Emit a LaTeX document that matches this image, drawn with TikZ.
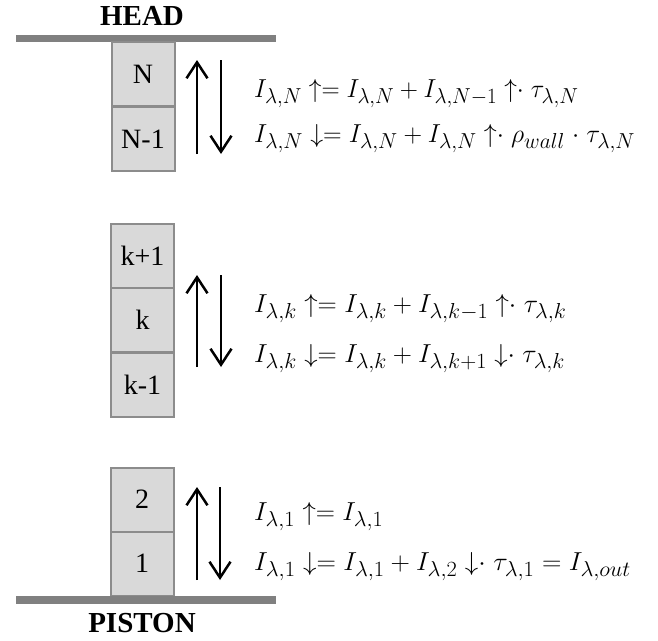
\documentclass[tikz,border=0pt]{standalone}
\usepackage{fontspec}
\setmainfont{Liberation Serif}
\usetikzlibrary{arrows.meta}
\definecolor{bargray}{HTML}{808080}
\definecolor{boxfill}{HTML}{D9D9D9}
\definecolor{boxline}{HTML}{8C8C8C}
\newcommand{\eqtext}[2][1]{\scalebox{#1}[1.045]{$#2$}}
\tikzset{
  cell/.style={draw=boxline, fill=boxfill, line width=2pt, minimum width=63pt, minimum height=64pt, inner sep=0pt, font=\fontsize{28}{30}\selectfont},
  bar/.style={draw=bargray, line width=7.5pt},
  title/.style={font=\fontsize{29}{32}\selectfont\bfseries},
  flux/.style={line width=2.5pt, -{Straight Barb[length=16pt,width=21pt,line width=2.5pt]}},
  eq/.style={anchor=base west, inner sep=0pt, font=\fontsize{24.88}{28}\selectfont}
}
\begin{document}
\begin{tikzpicture}[x=1pt,y=-1pt]
\useasboundingbox (0,0) rectangle (658,640);
% head
\node[title] (head) at (142,16) {HEAD};
\coordinate (hl) at (16,38.5);
\coordinate (hr) at (276,38.5);
\draw[bar] (hl) -- (hr);
\node[cell] (cN) at (143,74) {N};
\node[cell] (cN1) at (143,139) {N-1};
\coordinate (u1a) at (197,154); \coordinate (u1b) at (197,60);
\coordinate (d1a) at (221,60); \coordinate (d1b) at (221,154);
\draw[flux] (u1a) -- (u1b);
\draw[flux] (d1a) -- (d1b);
\node[eq] (e1) at (254,97) {\eqtext[1.012]{I_{\lambda,N}\;{\uparrow}{=}\;I_{\lambda,N}+I_{\lambda,N-1}\;{\uparrow}{\cdot}\;\tau_{\lambda,N}}};
\node[eq] (e2) at (254,142) {\eqtext[1.037]{I_{\lambda,N}\;{\downarrow}{=}\;I_{\lambda,N}+I_{\lambda,N}\;{\uparrow}{\cdot}\;\rho_{wall}\;{\cdot}\;\tau_{\lambda,N}}};
% middle
\node[cell] (ck1) at (142.5,255.5) {k+1};
\node[cell] (ck) at (142.5,320) {k};
\node[cell] (ckm) at (142.5,385) {k-1};
\coordinate (u2a) at (197,367); \coordinate (u2b) at (197,275);
\coordinate (d2a) at (221,275); \coordinate (d2b) at (221,367);
\draw[flux] (u2a) -- (u2b);
\draw[flux] (d2a) -- (d2b);
\node[eq] (e3) at (254,312) {\eqtext[1.07]{I_{\lambda,k}\;{\uparrow}{=}\;I_{\lambda,k}+I_{\lambda,k-1}\;{\uparrow}{\cdot}\;\tau_{\lambda,k}}};
\node[eq] (e4) at (254,362) {\eqtext[1.07]{I_{\lambda,k}\;{\downarrow}{=}\;I_{\lambda,k}+I_{\lambda,k+1}\;{\downarrow}{\cdot}\;\tau_{\lambda,k}}};
% bottom
\node[cell] (c2) at (142,499.5) {2};
\node[cell] (c1) at (142,563.5) {1};
\coordinate (pl) at (16,600);
\coordinate (pr) at (276,600);
\draw[bar] (pl) -- (pr);
\node[title] (piston) at (142,623) {PISTON};
\coordinate (u3a) at (197,580); \coordinate (u3b) at (197,487);
\coordinate (d3a) at (220,487); \coordinate (d3b) at (220,580);
\draw[flux] (u3a) -- (u3b);
\draw[flux] (d3a) -- (d3b);
\node[eq] (e5) at (254,520) {\eqtext[1.07]{I_{\lambda,1}\;{\uparrow}{=}\;I_{\lambda,1}}};
\node[eq] (e6) at (254,570) {\eqtext[1.082]{I_{\lambda,1}\;{\downarrow}{=}\;I_{\lambda,1}+I_{\lambda,2}\;{\downarrow}{\cdot}\;\tau_{\lambda,1}=I_{\lambda,out}}};
\end{tikzpicture}
\end{document}
